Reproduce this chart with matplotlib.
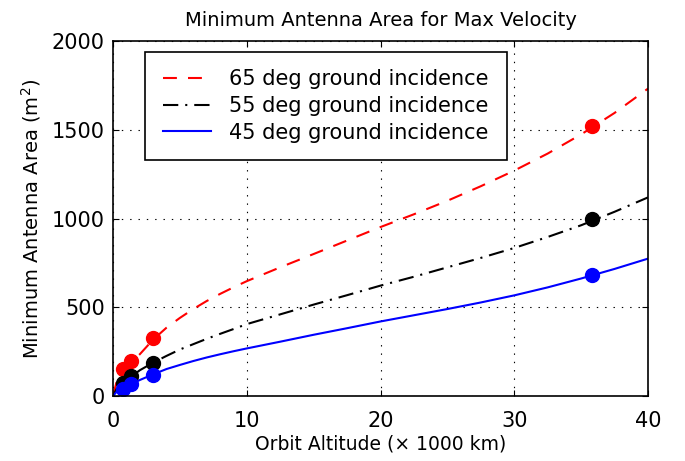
import matplotlib.pyplot as plt
import numpy as np

plt.rcParams['font.family'] = ['DejaVu Sans']
plt.rcParams['lines.scale_dashes'] = False

# curve samples (altitude in 1000 km, area in m^2)
alt = [0, 0.25, 0.5, 0.75, 1, 1.35, 2, 3, 4, 5, 6, 7, 8, 9, 10,
       12.5, 15, 17.5, 20, 22.5, 25, 27.5, 30, 32.5, 35, 37.5, 40]
area65 = [0, 75, 110, 140, 162, 192, 235, 318, 385, 440, 490, 535, 575, 612, 647,
          725, 800, 876, 952, 1024, 1100, 1182, 1270, 1366, 1474, 1595, 1732]
area55 = [0, 38, 55, 72, 88, 108, 145, 188, 226, 262, 292, 322, 350, 377, 405,
          460, 515, 568, 622, 672, 725, 778, 834, 896, 962, 1038, 1119]
area45 = [0, 22, 32, 42, 52, 66, 90, 122, 152, 175, 197, 217, 235, 252, 268,
          306, 345, 382, 420, 455, 490, 527, 567, 612, 662, 716, 774]

# marked orbits
dot_alt = [0.75, 1.35, 3.0, 35.786]
dot65 = [150, 195, 327, 1524]
dot55 = [75, 112, 188, 996]
dot45 = [42, 66, 120, 683]

labels = ['65 deg ground incidence', '55 deg ground incidence', '45 deg ground incidence']

fig = plt.figure(figsize=(6.85, 4.61), dpi=100)
ax = fig.add_axes([0.165, 0.141, 0.781, 0.770])

lw = 1.5
l1, = ax.plot(alt, area65, color='red', lw=lw, linestyle=(0, (10, 8)))
l2, = ax.plot(alt, area55, color='black', lw=lw, linestyle=(0, (11, 5, 1.5, 5)))
l3, = ax.plot(alt, area45, color='blue', lw=lw, linestyle='-')

ms = 10
ax.plot(dot_alt, dot65, 'o', color='red', ms=ms)
ax.plot(dot_alt, dot55, 'o', color='black', ms=ms)
ax.plot(dot_alt, dot45, 'o', color='blue', ms=ms)

ax.set_xlim(0, 40)
ax.set_ylim(0, 2000)
ax.set_xticks([0, 10, 20, 30, 40])
ax.set_yticks([0, 500, 1000, 1500, 2000])
ax.tick_params(direction='in', top=True, right=True, labelsize=15, length=4, width=0.8)
ax.tick_params(axis='x', pad=11)
ax.tick_params(axis='y', pad=6)
ax.grid(True, color='black', linestyle=(0, (1, 5)), linewidth=0.8)
for s in ax.spines.values():
    s.set_linewidth(1.2)

ax.set_title('Minimum Antenna Area for Max Velocity', fontsize=14, pad=11)
ax.set_xlabel('Orbit Altitude (\u00d7 1000 km)', fontsize=13.5, labelpad=2)
ax.set_ylabel('Minimum Antenna Area (m$^2$)', fontsize=14, labelpad=6)

leg = ax.legend([l1, l2, l3], labels, loc='upper left', bbox_to_anchor=(0.06, 0.97),
                borderaxespad=0, fontsize=15, frameon=True, fancybox=False,
                framealpha=1, edgecolor='black', handlelength=2.3,
                handletextpad=0.9, labelspacing=0.32, borderpad=0.85)
leg.get_frame().set_linewidth(1.2)

fig.savefig('out.png', dpi=100)
